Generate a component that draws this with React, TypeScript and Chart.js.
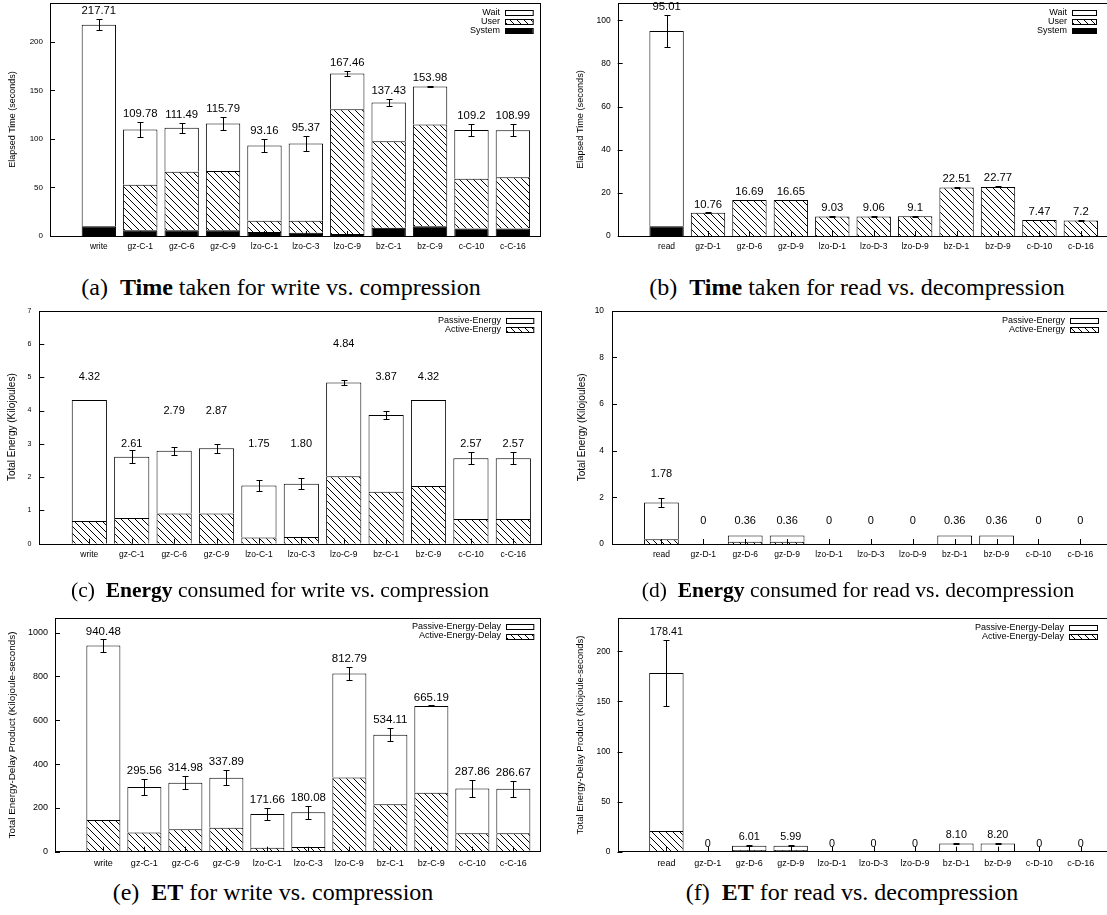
import React, { useEffect, useRef } from 'react';
import { Chart, registerables } from 'chart.js';
Chart.register(...registerables);

const FONT = '"Liberation Sans", Arial, Helvetica, sans-serif';
const SERIF = '"Liberation Serif", "Times New Roman", Times, serif';

// ---------- categories ----------
const writeCategories = ['write', 'gz-C-1', 'gz-C-6', 'gz-C-9', 'lzo-C-1', 'lzo-C-3', 'lzo-C-9', 'bz-C-1', 'bz-C-9', 'c-C-10', 'c-C-16'];
const readCategories = ['read', 'gz-D-1', 'gz-D-6', 'gz-D-9', 'lzo-D-1', 'lzo-D-3', 'lzo-D-9', 'bz-D-1', 'bz-D-9', 'c-D-10', 'c-D-16'];

// ---------- (a) time, write vs compression ----------
const writeTimeTotal = [217.71, 109.78, 111.49, 115.79, 93.16, 95.37, 167.46, 137.43, 153.98, 109.2, 108.99];
const writeTimeSystem = [10, 5.8, 5.8, 5.8, 4, 3.4, 2, 8.6, 10, 7.6, 7.6];
const writeTimeUser = [0, 47.1, 60.5, 61.2, 11.8, 12.4, 128.6, 89, 104.8, 51.4, 52.9];
const writeTimeWait = [207.71, 56.88, 45.19, 48.79, 77.36, 79.57, 36.86, 39.83, 39.18, 50.2, 48.49];
const writeTimeErr = [6, 7.4, 5.2, 6.5, 7, 7.5, 2.7, 3.4, 0.4, 6.5, 6.5];
const writeTimeTicks = [0, 50, 100, 150, 200];

// ---------- (b) time, read vs decompression ----------
const readTimeTotal = [95.01, 10.76, 16.69, 16.65, 9.03, 9.06, 9.1, 22.51, 22.77, 7.47, 7.2];
const readTimeSystem = [4.5, 0, 0, 0, 0, 0, 0, 0, 0, 0, 0];
const readTimeUser = [0, 10.76, 16.69, 16.65, 9.03, 9.06, 9.1, 22.51, 22.77, 7.47, 7.2];
const readTimeWait = [90.51, 0, 0, 0, 0, 0, 0, 0, 0, 0, 0];
const readTimeErr = [7.6, 0.15, 0.15, 0.15, 0.1, 0.1, 0.1, 0.25, 0.25, 0.1, 0.1];
const readTimeTicks = [0, 20, 40, 60, 80, 100];

// ---------- (c) energy, write vs compression ----------
const writeEnergyTotal = [4.32, 2.61, 2.79, 2.87, 1.75, 1.8, 4.84, 3.87, 4.32, 2.57, 2.57];
const writeEnergyActive = [0.68, 0.77, 0.91, 0.91, 0.19, 0.2, 2.03, 1.56, 1.73, 0.74, 0.74];
const writeEnergyPassive = [3.64, 1.84, 1.88, 1.96, 1.56, 1.6, 2.81, 2.31, 2.59, 1.83, 1.83];
const writeEnergyErr = [0.01, 0.2, 0.13, 0.14, 0.17, 0.17, 0.07, 0.11, 0.01, 0.18, 0.18];
const writeEnergyLabelAt = [5, 3, 4, 4, 3, 3, 6, 5, 5, 3, 3];
const writeEnergyTicks = [0, 1, 2, 3, 4, 5, 6, 7];

// ---------- (d) energy, read vs decompression ----------
const readEnergyTotal = [1.78, 0, 0.36, 0.36, 0, 0, 0, 0.36, 0.36, 0, 0];
const readEnergyActive = [0.2, 0, 0.1, 0.1, 0, 0, 0, 0, 0, 0, 0];
const readEnergyPassive = [1.58, 0, 0.26, 0.26, 0, 0, 0, 0.36, 0.36, 0, 0];
const readEnergyErr = [0.18, 0, 0, 0, 0, 0, 0, 0, 0, 0, 0];
const readEnergyLabelAt = [3, 1, 1, 1, 1, 1, 1, 1, 1, 1, 1];
const readEnergyTicks = [0, 2, 4, 6, 8, 10];

// ---------- (e) energy-delay, write vs compression ----------
const writeEDTotal = [940.48, 295.56, 314.98, 337.89, 171.66, 180.08, 812.79, 534.11, 665.19, 287.86, 286.67];
const writeEDActive = [145, 88, 103, 109, 18, 21, 339, 216, 269, 84, 84];
const writeEDPassive = [795.48, 207.56, 211.98, 228.89, 153.66, 159.08, 473.79, 318.11, 396.19, 203.86, 202.67];
const writeEDErr = [28, 38, 29, 34, 29, 30, 30, 30, 2, 38, 36];
const writeEDTicks = [0, 200, 400, 600, 800, 1000];

// ---------- (f) energy-delay, read vs decompression ----------
const readEDTotal = [178.41, 0, 6.01, 5.99, 0, 0, 0, 8.1, 8.2, 0, 0];
const readEDActive = [20.6, 0, 1.7, 1.7, 0, 0, 0, 0, 0, 0, 0];
const readEDPassive = [157.81, 0, 4.31, 4.29, 0, 0, 0, 8.1, 8.2, 0, 0];
const readEDErr = [33, 0, 0.6, 0.6, 0, 0, 0, 0.3, 0.3, 0, 0];
const readEDTicks = [0, 50, 100, 150, 200];

const fmtPlain = (v: number) => String(v);
const fmtFixed = (v: number) => (v === 0 ? '0' : v.toFixed(2));

const X_MIN = -1.18;
const X_MAX = 10.66;

type Fill = 'white' | 'hatch' | 'black';
type Stack = { label: string; data: number[]; fill: Fill };
type Legend = { boxRight: number; boxW: number; firstY: number; step: number; size: number };
type PanelSpec = {
  box: [number, number, number, number];
  area: [number, number, number, number];
  cats: string[];
  stacks: Stack[];
  totals: number[];
  errs: number[];
  fmt: (v: number) => string;
  labelAt?: number[];
  yMax: number;
  yTicks: number[];
  yTitle: string;
  yTitleSize: number;
  yTitleX: number;
  yTickSize: number;
  yTickPad: number;
  xTickSize: number;
  valueSize: number;
  legend: Legend;
};

function makeHatch(ctx: CanvasRenderingContext2D): CanvasPattern | string {
  const s = 7;
  const c = document.createElement('canvas');
  c.width = s;
  c.height = s;
  const g = c.getContext('2d');
  if (!g) return '#888';
  g.fillStyle = '#fff';
  g.fillRect(0, 0, s, s);
  g.strokeStyle = '#000';
  g.lineWidth = 1;
  g.beginPath();
  g.moveTo(-1, -1);
  g.lineTo(s + 1, s + 1);
  g.moveTo(-1, s - 1);
  g.lineTo(1, s + 1);
  g.moveTo(s - 1, -1);
  g.lineTo(s + 1, 1);
  g.stroke();
  return ctx.createPattern(c, 'repeat') || '#888';
}

const zeroPad = (ax: any) => {
  ax.paddingTop = 0;
  ax.paddingBottom = 0;
  ax.paddingLeft = 0;
  ax.paddingRight = 0;
};

function Panel({ p }: { p: PanelSpec }) {
  const ref = useRef<HTMLCanvasElement>(null);
  const [cx, cy, cw, ch] = p.box;
  useEffect(() => {
    const canvas = ref.current;
    if (!canvas) return;
    const ctx0 = canvas.getContext('2d') as CanvasRenderingContext2D;
    const hatch = makeHatch(ctx0);
    const fillOf = (f: Fill) => (f === 'hatch' ? hatch : f === 'black' ? '#000' : '#fff');
    const [L, T, R, B] = p.area;
    const titleLH = p.yTitleSize * 1.2;

    const decor = {
      id: 'decor',
      afterDatasetsDraw(chart: any) {
        const { ctx, chartArea: a } = chart;
        const xs = chart.scales.x;
        const ys = chart.scales.y;
        ctx.save();
        ctx.strokeStyle = '#000';
        ctx.lineWidth = 1;
        // inward ticks
        ctx.beginPath();
        p.yTicks.forEach((v) => {
          const py = Math.round(ys.getPixelForValue(v)) + 0.5;
          ctx.moveTo(a.left, py);
          ctx.lineTo(a.left + 5, py);
        });
        p.cats.forEach((_, i) => {
          const px = Math.round(xs.getPixelForValue(i)) + 0.5;
          ctx.moveTo(px, a.bottom);
          ctx.lineTo(px, a.bottom - 5);
        });
        ctx.stroke();
        // frame
        ctx.strokeRect(Math.round(a.left) + 0.5, Math.round(a.top) + 0.5, Math.round(a.right - a.left), Math.round(a.bottom - a.top));
        // error bars
        ctx.beginPath();
        p.totals.forEach((t, i) => {
          const e = p.errs[i];
          if (!(e > 0)) return;
          const px = Math.round(xs.getPixelForValue(i)) + 0.5;
          const y1 = Math.round(ys.getPixelForValue(t + e)) + 0.5;
          const y2 = Math.round(ys.getPixelForValue(t - e)) + 0.5;
          ctx.moveTo(px, y1);
          ctx.lineTo(px, y2);
          ctx.moveTo(px - 3, y1);
          ctx.lineTo(px + 3, y1);
          ctx.moveTo(px - 3, y2);
          ctx.lineTo(px + 3, y2);
        });
        ctx.stroke();
        // value labels
        ctx.fillStyle = '#000';
        ctx.font = `${p.valueSize}px ${FONT}`;
        ctx.textAlign = 'center';
        ctx.textBaseline = 'middle';
        p.totals.forEach((t, i) => {
          const px = xs.getPixelForValue(i);
          const py = p.labelAt
            ? ys.getPixelForValue(p.labelAt[i])
            : ys.getPixelForValue(t + (p.errs[i] || 0)) - 8;
          ctx.fillText(p.fmt(t), px, py);
        });
        // legend
        const lg = p.legend;
        const items = [...p.stacks].reverse();
        ctx.font = `${lg.size}px ${FONT}`;
        ctx.textAlign = 'right';
        ctx.textBaseline = 'middle';
        items.forEach((s, k) => {
          const yy = lg.firstY - cy + k * lg.step;
          const bx = Math.round(lg.boxRight - cx - lg.boxW);
          ctx.fillStyle = '#000';
          ctx.fillText(s.label, bx - 5, yy);
          ctx.fillStyle = fillOf(s.fill);
          const by = Math.round(yy - 2.5);
          ctx.fillRect(bx, by, lg.boxW, 5);
          ctx.strokeRect(bx + 0.5, by + 0.5, lg.boxW, 5);
        });
        ctx.restore();
      },
    };

    const chart = new Chart(canvas, {
      type: 'bar',
      data: {
        datasets: p.stacks.map((s) => ({
          label: s.label,
          data: s.data.map((v, i) => ({ x: i, y: v })),
          backgroundColor: fillOf(s.fill),
          borderColor: '#000',
          borderWidth: { top: 1, left: 1, right: 1, bottom: 0 },
          borderSkipped: false,
          categoryPercentage: 1,
          barPercentage: 0.83,
          stack: 'one',
        })) as any,
      },
      options: {
        responsive: false,
        animation: false,
        devicePixelRatio: 1,
        events: [],
        layout: { padding: { left: 0, top: T - cy, right: cx + cw - R, bottom: 0 } },
        plugins: { legend: { display: false }, tooltip: { enabled: false } },
        scales: {
          x: {
            type: 'linear',
            min: X_MIN,
            max: X_MAX,
            offset: false,
            stacked: true,
            grid: { display: false, drawTicks: false },
            border: { display: false },
            afterBuildTicks: (ax: any) => {
              ax.ticks = p.cats.map((_, i) => ({ value: i }));
            },
            afterFit: (ax: any) => {
              ax.height = cy + ch - B;
              zeroPad(ax);
            },
            ticks: {
              autoSkip: false,
              maxRotation: 0,
              minRotation: 0,
              padding: 6,
              color: '#000',
              font: { family: FONT, size: p.xTickSize },
              callback: (v: any) => p.cats[Math.round(Number(v))] ?? '',
            },
          },
          y: {
            type: 'linear',
            min: 0,
            max: p.yMax,
            stacked: true,
            grid: { display: false, drawTicks: false },
            border: { display: false },
            afterBuildTicks: (ax: any) => {
              ax.ticks = p.yTicks.map((v) => ({ value: v }));
            },
            afterFit: (ax: any) => {
              ax.width = L - cx;
              zeroPad(ax);
            },
            ticks: {
              padding: p.yTickPad,
              color: '#000',
              font: { family: FONT, size: p.yTickSize },
              callback: (v: any) => String(v),
            },
            title: {
              display: true,
              text: p.yTitle,
              color: '#000',
              font: { family: FONT, size: p.yTitleSize, lineHeight: 1.2 },
              padding: { top: p.yTitleX - cx - titleLH / 2, bottom: 0 },
            },
          },
        },
      } as any,
      plugins: [decor],
    });
    return () => chart.destroy();
  }, []);
  return (
    <canvas
      ref={ref}
      width={cw}
      height={ch}
      style={{ position: 'absolute', left: cx, top: cy, width: cw, height: ch }}
    />
  );
}

const panels: PanelSpec[] = [
  {
    box: [0, 0, 548, 262],
    area: [50, 3, 540.2, 236],
    cats: writeCategories,
    stacks: [
      { label: 'System', data: writeTimeSystem, fill: 'black' },
      { label: 'User', data: writeTimeUser, fill: 'hatch' },
      { label: 'Wait', data: writeTimeWait, fill: 'white' },
    ],
    totals: writeTimeTotal,
    errs: writeTimeErr,
    fmt: fmtPlain,
    yMax: 240,
    yTicks: writeTimeTicks,
    yTitle: 'Elapsed Time (seconds)',
    yTitleSize: 9,
    yTitleX: 12.3,
    yTickSize: 8,
    yTickPad: 7,
    xTickSize: 8.5,
    valueSize: 11.3,
    legend: { boxRight: 533, boxW: 27.7, firstY: 12.3, step: 9.2, size: 9 },
  },
  {
    box: [560, 0, 560, 262],
    area: [617.7, 3, 1108.2, 236],
    cats: readCategories,
    stacks: [
      { label: 'System', data: readTimeSystem, fill: 'black' },
      { label: 'User', data: readTimeUser, fill: 'hatch' },
      { label: 'Wait', data: readTimeWait, fill: 'white' },
    ],
    totals: readTimeTotal,
    errs: readTimeErr,
    fmt: fmtPlain,
    yMax: 108,
    yTicks: readTimeTicks,
    yTitle: 'Elapsed Time (seconds)',
    yTitleSize: 9.2,
    yTitleX: 580,
    yTickSize: 8.5,
    yTickPad: 7,
    xTickSize: 8.5,
    valueSize: 11.3,
    legend: { boxRight: 1096, boxW: 24, firstY: 12.3, step: 9.2, size: 9 },
  },
  {
    box: [0, 300, 550, 270],
    area: [39.3, 310.7, 541.3, 543.7],
    cats: writeCategories,
    stacks: [
      { label: 'Active-Energy', data: writeEnergyActive, fill: 'hatch' },
      { label: 'Passive-Energy', data: writeEnergyPassive, fill: 'white' },
    ],
    totals: writeEnergyTotal,
    errs: writeEnergyErr,
    fmt: fmtFixed,
    labelAt: writeEnergyLabelAt,
    yMax: 7,
    yTicks: writeEnergyTicks,
    yTitle: 'Total Energy (Kilojoules)',
    yTitleSize: 10,
    yTitleX: 12.3,
    yTickSize: 7,
    yTickPad: 8,
    xTickSize: 8.5,
    valueSize: 11,
    legend: { boxRight: 533, boxW: 27.3, firstY: 320.3, step: 9, size: 9 },
  },
  {
    box: [560, 300, 560, 270],
    area: [612, 310.7, 1108, 544],
    cats: readCategories,
    stacks: [
      { label: 'Active-Energy', data: readEnergyActive, fill: 'hatch' },
      { label: 'Passive-Energy', data: readEnergyPassive, fill: 'white' },
    ],
    totals: readEnergyTotal,
    errs: readEnergyErr,
    fmt: fmtFixed,
    labelAt: readEnergyLabelAt,
    yMax: 10,
    yTicks: readEnergyTicks,
    yTitle: 'Total Energy (Kilojoules)',
    yTitleSize: 10,
    yTitleX: 582,
    yTickSize: 8.4,
    yTickPad: 8,
    xTickSize: 8.5,
    valueSize: 11,
    legend: { boxRight: 1098, boxW: 28, firstY: 320.3, step: 9.2, size: 9 },
  },
  {
    box: [0, 600, 550, 275],
    area: [55, 618.3, 540.4, 851.7],
    cats: writeCategories,
    stacks: [
      { label: 'Active-Energy-Delay', data: writeEDActive, fill: 'hatch' },
      { label: 'Passive-Energy-Delay', data: writeEDPassive, fill: 'white' },
    ],
    totals: writeEDTotal,
    errs: writeEDErr,
    fmt: fmtFixed,
    yMax: 1065,
    yTicks: writeEDTicks,
    yTitle: 'Total Energy-Delay Product (Kilojoule-seconds)',
    yTitleSize: 9.9,
    yTitleX: 12.3,
    yTickSize: 9,
    yTickPad: 7,
    xTickSize: 9,
    valueSize: 11.5,
    legend: { boxRight: 533, boxW: 27.3, firstY: 626.7, step: 9.3, size: 9 },
  },
  {
    box: [560, 600, 560, 275],
    area: [617.5, 618.3, 1108, 851.7],
    cats: readCategories,
    stacks: [
      { label: 'Active-Energy-Delay', data: readEDActive, fill: 'hatch' },
      { label: 'Passive-Energy-Delay', data: readEDPassive, fill: 'white' },
    ],
    totals: readEDTotal,
    errs: readEDErr,
    fmt: fmtFixed,
    yMax: 233,
    yTicks: readEDTicks,
    yTitle: 'Total Energy-Delay Product (Kilojoule-seconds)',
    yTitleSize: 9.5,
    yTitleX: 580,
    yTickSize: 8.4,
    yTickPad: 7,
    xTickSize: 9,
    valueSize: 10.8,
    legend: { boxRight: 1097, boxW: 28, firstY: 627.3, step: 9.4, size: 9 },
  },
];

type Caption = { tag: string; bold: string; rest: string; cx: number; cy: number; size: number };
const captions: Caption[] = [
  { tag: '(a)', bold: 'Time', rest: ' taken for write vs. compression', cx: 281, cy: 287, size: 24 },
  { tag: '(b)', bold: 'Time', rest: ' taken for read vs. decompression', cx: 857, cy: 287, size: 24 },
  { tag: '(c)', bold: 'Energy', rest: ' consumed for write vs. compression', cx: 280, cy: 590, size: 21.5 },
  { tag: '(d)', bold: 'Energy', rest: ' consumed for read vs. decompression', cx: 858, cy: 590, size: 21.5 },
  { tag: '(e)', bold: 'ET', rest: ' for write vs. compression', cx: 273, cy: 892, size: 24 },
  { tag: '(f)', bold: 'ET', rest: ' for read vs. decompression', cx: 852, cy: 892, size: 24 },
];

export default function App() {
  return (
    <div
      style={{
        position: 'fixed',
        left: 0,
        top: 0,
        width: 1107,
        height: 915,
        overflow: 'hidden',
        background: '#fff',
      }}
    >
      {panels.map((p, i) => (
        <Panel key={i} p={p} />
      ))}
      {captions.map((c, i) => (
        <div
          key={'c' + i}
          style={{
            position: 'absolute',
            left: c.cx - 300,
            width: 600,
            top: c.cy - 13,
            height: 26,
            lineHeight: '26px',
            textAlign: 'center',
            fontFamily: SERIF,
            fontSize: c.size,
            color: '#000',
            whiteSpace: 'nowrap',
          }}
        >
          {c.tag}&nbsp; <b>{c.bold}</b>
          {c.rest}
        </div>
      ))}
    </div>
  );
}
